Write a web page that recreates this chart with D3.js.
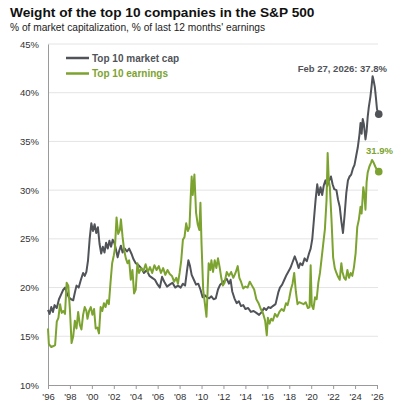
<!DOCTYPE html>
<html>
<head>
<meta charset="utf-8">
<script src="https://cdn.jsdelivr.net/npm/d3@7"></script>
<style>
  body { margin: 0; background: #fff; }
  svg { display: block; font-family: Arial, "Liberation Sans", sans-serif; }
</style>
</head>
<body>
<svg id="chart"></svg>
<script>
// [decimal year, % of S&P 500]
const mktCap = [
  [1996.0, 17.7], [1996.15, 17.3], [1996.3, 18.0], [1996.45, 17.5], [1996.6, 18.2], [1996.8, 17.9],
  [1997.0, 18.8], [1997.2, 19.3], [1997.4, 19.8], [1997.55, 20.0], [1997.7, 19.5], [1997.9, 19.0],
  [1998.1, 18.8], [1998.3, 18.7], [1998.45, 19.5], [1998.6, 20.2], [1998.8, 20.0], [1999.0, 20.8],
  [1999.2, 21.5], [1999.35, 21.2], [1999.5, 21.6], [1999.65, 22.8], [1999.8, 25.0], [1999.95, 26.6],
  [2000.1, 25.8], [2000.25, 26.5], [2000.4, 25.6], [2000.55, 26.2], [2000.7, 24.5], [2000.85, 23.5],
  [2001.0, 24.2], [2001.15, 23.6], [2001.3, 24.6], [2001.45, 24.0], [2001.6, 24.8], [2001.75, 24.2],
  [2001.9, 24.9], [2002.05, 24.6], [2002.2, 23.9], [2002.35, 23.1], [2002.5, 23.8], [2002.65, 24.3],
  [2002.8, 23.6], [2003.0, 24.0], [2003.2, 23.7], [2003.4, 24.0], [2003.6, 23.5], [2003.8, 22.9],
  [2004.0, 22.5], [2004.25, 22.3], [2004.5, 22.0], [2004.75, 21.5], [2005.0, 21.8], [2005.25, 21.2],
  [2005.5, 21.0], [2005.75, 20.8], [2006.0, 20.3], [2006.2, 20.0], [2006.4, 21.1], [2006.6, 20.6],
  [2006.85, 20.1], [2007.1, 20.3], [2007.35, 20.5], [2007.6, 20.0], [2007.85, 20.2], [2008.1, 20.0],
  [2008.3, 20.4], [2008.5, 20.2], [2008.65, 21.5], [2008.8, 22.8], [2008.95, 22.2], [2009.1, 21.3],
  [2009.3, 20.8], [2009.5, 20.3], [2009.7, 20.4], [2009.9, 19.8], [2010.1, 19.0], [2010.3, 19.2],
  [2010.5, 19.0], [2010.7, 18.9], [2010.9, 19.1], [2011.1, 18.8], [2011.3, 18.9], [2011.5, 19.8],
  [2011.7, 20.3], [2011.9, 20.5], [2012.1, 20.7], [2012.3, 20.9], [2012.5, 20.4], [2012.65, 20.8],
  [2012.8, 19.6], [2013.0, 18.9], [2013.2, 18.4], [2013.4, 18.6], [2013.6, 18.1], [2013.8, 18.2],
  [2014.0, 17.8], [2014.25, 17.9], [2014.5, 17.5], [2014.75, 17.6], [2015.0, 17.4], [2015.25, 17.2],
  [2015.5, 17.5], [2015.7, 17.9], [2015.9, 17.7], [2016.1, 18.0], [2016.3, 17.9], [2016.5, 18.1],
  [2016.75, 18.3], [2017.0, 19.5], [2017.15, 20.0], [2017.35, 20.3], [2017.55, 20.8], [2017.75, 21.3],
  [2017.9, 21.6], [2018.1, 22.0], [2018.3, 22.6], [2018.5, 23.2], [2018.7, 22.6], [2018.85, 22.0],
  [2019.0, 22.5], [2019.2, 22.3], [2019.4, 23.0], [2019.6, 22.7], [2019.8, 23.5], [2019.95, 24.0],
  [2020.1, 25.0], [2020.25, 27.0], [2020.4, 29.0], [2020.55, 30.6], [2020.7, 29.5], [2020.85, 30.3],
  [2021.0, 29.5], [2021.15, 30.5], [2021.3, 31.0], [2021.45, 30.4], [2021.6, 30.9], [2021.8, 31.4],
  [2021.95, 30.6], [2022.1, 30.1], [2022.3, 30.0], [2022.45, 29.0], [2022.6, 28.3], [2022.75, 26.8],
  [2022.9, 25.6], [2023.05, 27.5], [2023.2, 29.7], [2023.35, 31.0], [2023.5, 31.4], [2023.65, 31.6],
  [2023.8, 32.2], [2023.95, 32.6], [2024.1, 33.5], [2024.25, 34.4], [2024.4, 35.7], [2024.5, 36.9],
  [2024.6, 35.8], [2024.7, 37.3], [2024.8, 36.8], [2024.95, 35.2], [2025.05, 36.0], [2025.15, 37.5],
  [2025.25, 38.5], [2025.4, 39.6], [2025.5, 40.6], [2025.6, 41.7], [2025.7, 41.2], [2025.8, 40.6],
  [2025.9, 39.5], [2026.0, 38.3], [2026.16, 37.8]
];

const earnings = [
  [1996.0, 15.8], [1996.08, 14.2], [1996.3, 13.9], [1996.5, 14.0], [1996.65, 14.1], [1996.8, 16.5],
  [1996.95, 16.9], [1997.1, 18.3], [1997.25, 17.4], [1997.4, 17.6], [1997.55, 17.3], [1997.7, 20.5],
  [1997.85, 20.2], [1998.0, 17.7], [1998.15, 14.3], [1998.3, 15.0], [1998.45, 16.6], [1998.6, 15.8],
  [1998.75, 17.5], [1998.9, 16.2], [1999.05, 15.7], [1999.2, 17.2], [1999.35, 18.0], [1999.5, 17.6],
  [1999.6, 16.8], [1999.75, 17.6], [1999.9, 18.0], [2000.05, 17.2], [2000.2, 17.8], [2000.35, 15.8],
  [2000.5, 15.9], [2000.65, 15.3], [2000.8, 18.0], [2000.95, 17.6], [2001.1, 18.4], [2001.25, 18.0],
  [2001.4, 18.7], [2001.55, 18.3], [2001.7, 20.5], [2001.85, 22.5], [2002.0, 23.3], [2002.1, 24.0],
  [2002.25, 27.2], [2002.4, 25.5], [2002.55, 25.9], [2002.65, 27.0], [2002.8, 25.2], [2002.95, 23.8],
  [2003.1, 23.0], [2003.25, 22.5], [2003.4, 22.8], [2003.55, 20.8], [2003.7, 21.8], [2003.85, 19.4],
  [2004.0, 19.8], [2004.15, 22.5], [2004.3, 21.5], [2004.5, 22.0], [2004.7, 21.7], [2004.9, 22.4],
  [2005.1, 21.6], [2005.3, 22.1], [2005.5, 21.5], [2005.7, 22.3], [2005.9, 21.8], [2006.1, 22.2],
  [2006.3, 21.5], [2006.5, 22.0], [2006.7, 21.3], [2006.9, 21.8], [2007.1, 21.4], [2007.3, 21.2],
  [2007.5, 20.6], [2007.7, 21.0], [2007.85, 20.4], [2008.0, 21.5], [2008.15, 22.8], [2008.3, 24.9],
  [2008.45, 25.2], [2008.6, 26.6], [2008.75, 25.8], [2008.9, 26.2], [2009.0, 29.0], [2009.1, 31.4],
  [2009.2, 29.5], [2009.35, 31.6], [2009.5, 27.7], [2009.65, 26.5], [2009.8, 25.9], [2009.9, 28.7],
  [2010.0, 24.5], [2010.15, 19.8], [2010.3, 18.4], [2010.45, 17.0], [2010.55, 19.5], [2010.65, 22.5],
  [2010.8, 21.8], [2010.9, 22.8], [2011.05, 21.6], [2011.2, 22.8], [2011.35, 22.0], [2011.5, 23.0],
  [2011.65, 22.1], [2011.8, 21.0], [2011.95, 20.2], [2012.1, 20.5], [2012.3, 21.6], [2012.5, 21.2],
  [2012.7, 21.6], [2012.9, 21.0], [2013.1, 21.5], [2013.3, 22.2], [2013.45, 21.0], [2013.6, 20.6],
  [2013.8, 19.9], [2014.0, 20.1], [2014.2, 20.0], [2014.4, 20.6], [2014.6, 20.2], [2014.8, 19.8],
  [2015.0, 18.8], [2015.2, 18.4], [2015.4, 17.8], [2015.6, 17.4], [2015.8, 16.6], [2015.95, 15.1],
  [2016.05, 16.9], [2016.2, 16.3], [2016.35, 16.8], [2016.5, 16.6], [2016.7, 17.3], [2016.9, 17.0],
  [2017.1, 17.5], [2017.3, 17.8], [2017.5, 17.6], [2017.7, 18.4], [2017.85, 18.2], [2018.0, 18.9],
  [2018.15, 19.8], [2018.3, 20.4], [2018.45, 21.5], [2018.6, 19.6], [2018.75, 18.3], [2018.9, 18.5],
  [2019.1, 18.4], [2019.3, 18.3], [2019.5, 18.5], [2019.7, 17.9], [2019.85, 18.0], [2019.95, 22.3],
  [2020.05, 18.2], [2020.2, 17.8], [2020.35, 19.0], [2020.5, 18.8], [2020.65, 20.5], [2020.8, 21.5],
  [2020.95, 23.0], [2021.1, 24.5], [2021.25, 26.0], [2021.4, 29.0], [2021.5, 33.8], [2021.6, 31.0],
  [2021.7, 30.3], [2021.85, 27.0], [2022.0, 23.1], [2022.15, 22.0], [2022.3, 21.5], [2022.45, 21.1],
  [2022.6, 20.8], [2022.75, 22.5], [2022.85, 21.6], [2023.0, 21.0], [2023.15, 20.8], [2023.3, 21.8],
  [2023.45, 21.0], [2023.6, 21.5], [2023.75, 21.2], [2023.9, 22.1], [2024.05, 23.5], [2024.2, 26.2],
  [2024.35, 27.0], [2024.5, 28.3], [2024.6, 27.6], [2024.75, 30.3], [2024.85, 29.5], [2024.95, 28.0],
  [2025.05, 30.8], [2025.15, 31.8], [2025.3, 32.4], [2025.45, 32.8], [2025.55, 33.1], [2025.7, 32.8],
  [2025.85, 32.4], [2026.0, 32.1], [2026.16, 31.9]
];

const yTicks = [10, 15, 20, 25, 30, 35, 40, 45];
const xTicks = [1996, 1998, 2000, 2002, 2004, 2006, 2008, 2010, 2012, 2014, 2016, 2018, 2020, 2022, 2024, 2026];
const seriesNames = ['Top 10 market cap', 'Top 10 earnings'];
const endLabels = ['Feb 27, 2026: 37.8%', '31.9%'];

const width = 408, height = 408;
const grey = '#505358', green = '#7ca32f';
const margin = { left: 48, right: 31, top: 44, bottom: 23 };

const svg = d3.select('#chart').attr('width', width).attr('height', height);

const x = d3.scaleLinear().domain([1996, 2026]).range([margin.left, width - margin.right]);
const y = d3.scaleLinear().domain([10, 45]).range([height - margin.bottom, margin.top]);

// Title and subtitle
svg.append('text').attr('x', 10).attr('y', 17)
  .attr('font-size', 13.7).attr('font-weight', 'bold').attr('fill', '#111')
  .text('Weight of the top 10 companies in the S&P 500');
svg.append('text').attr('x', 10).attr('y', 31)
  .attr('font-size', 10.2).attr('fill', '#222')
  .text("% of market capitalization, % of last 12 months' earnings");

// Gridlines
svg.append('g').selectAll('line').data(yTicks.slice(1)).join('line')
  .attr('x1', x(1996)).attr('x2', x(2026) + 1)
  .attr('y1', (d) => y(d)).attr('y2', (d) => y(d))
  .attr('stroke', '#e4e4e4').attr('stroke-width', 1);

// Y axis
const yAxis = svg.append('g').attr('transform', `translate(${x(1996)},0)`)
  .call(d3.axisLeft(y).tickValues(yTicks).tickFormat((d) => d + '%').tickSize(0).tickPadding(9));
yAxis.select('.domain').attr('stroke', '#9a9a9a');
yAxis.selectAll('text').attr('font-size', 9.5).attr('fill', '#333').attr('font-family', null);

// X axis
const xAxis = svg.append('g').attr('transform', `translate(0,${y(10)})`)
  .call(d3.axisBottom(x).tickValues(xTicks).tickFormat((d) => "'" + String(d).slice(2)).tickSize(4).tickSizeOuter(0).tickPadding(4));
xAxis.select('.domain').attr('stroke', '#9a9a9a');
xAxis.selectAll('.tick line').attr('stroke', '#9a9a9a');
xAxis.selectAll('text').attr('font-size', 9.5).attr('fill', '#333').attr('font-family', null);

// Lines
const line = d3.line().x((d) => x(d[0])).y((d) => y(d[1]));
svg.append('path').datum(mktCap).attr('d', line)
  .attr('fill', 'none').attr('stroke', grey).attr('stroke-width', 2).attr('stroke-linejoin', 'round');
svg.append('path').datum(earnings).attr('d', line)
  .attr('fill', 'none').attr('stroke', green).attr('stroke-width', 2).attr('stroke-linejoin', 'round');

// End dots and labels
const lastCap = mktCap[mktCap.length - 1];
const lastEarn = earnings[earnings.length - 1];
svg.append('circle').attr('cx', x(lastCap[0])).attr('cy', y(lastCap[1])).attr('r', 3.8).attr('fill', grey);
svg.append('circle').attr('cx', x(lastEarn[0])).attr('cy', y(lastEarn[1])).attr('r', 3.8).attr('fill', green);
svg.append('text').attr('x', 387).attr('y', 72).attr('text-anchor', 'end')
  .attr('font-size', 9.5).attr('font-weight', 'bold').attr('fill', grey)
  .text(endLabels[0]);
svg.append('text').attr('x', 393).attr('y', 153.5).attr('text-anchor', 'end')
  .attr('font-size', 9.5).attr('font-weight', 'bold').attr('fill', green)
  .text(endLabels[1]);

// Legend
const legend = svg.append('g').selectAll('g').data(seriesNames).join('g')
  .attr('transform', (d, i) => `translate(66,${58 + i * 15.5})`);
legend.append('line').attr('x1', 0).attr('x2', 23)
  .attr('stroke', (d, i) => (i ? green : grey)).attr('stroke-width', 2.5);
legend.append('text').attr('x', 26).attr('y', 3.5)
  .attr('font-size', 10).attr('font-weight', 'bold')
  .attr('fill', (d, i) => (i ? green : grey))
  .text((d) => d);
</script>
</body>
</html>
